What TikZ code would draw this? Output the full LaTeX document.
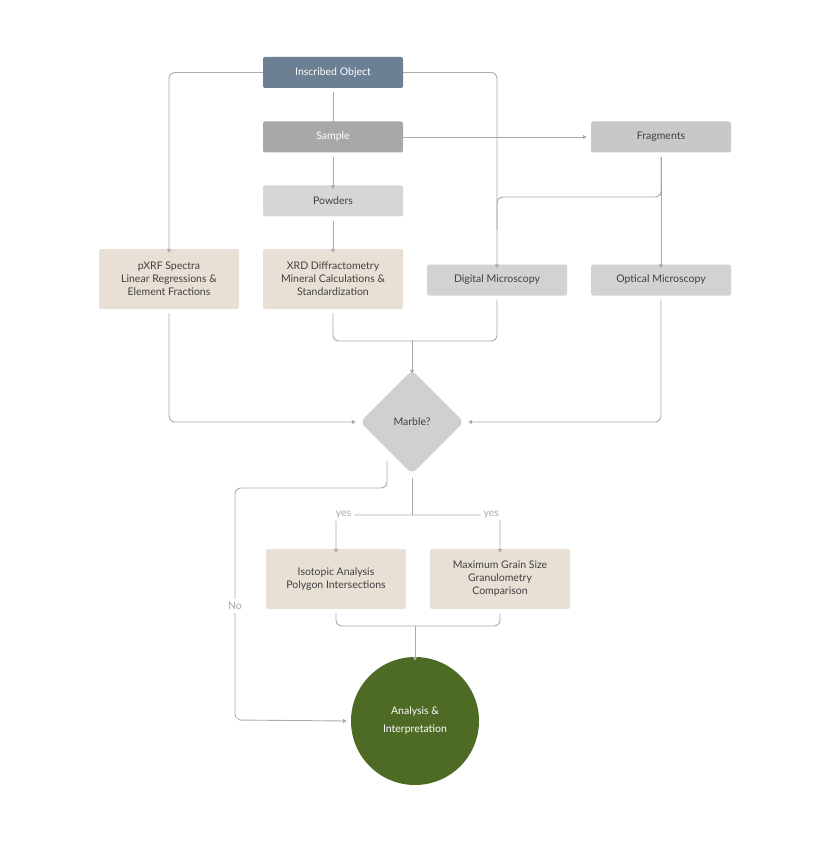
\documentclass[tikz,border=0pt]{standalone}
\usepackage{fontspec}
\setmainfont{Lato}
\usetikzlibrary{shapes.geometric,arrows.meta}
\definecolor{ln}{HTML}{AAAAAA}
\definecolor{tan}{HTML}{E8E0D4}
\begin{document}
\begin{tikzpicture}[x=1pt,y=-1pt,
  box/.style={rectangle,rounded corners=2pt,minimum width=140pt,minimum height=31pt,align=center,font=\fontsize{10.5}{13}\selectfont,text=black!75},
  tbox/.style={box,fill=tan,minimum height=60pt},
  e/.style={draw=ln,line width=0.9pt,rounded corners=6pt},
  a/.style={e,-{Triangle[length=4pt,width=4pt]}},
  lab/.style={fill=white,text=ln,font=\fontsize{10.5}{12}\selectfont,inner sep=3pt}]
\useasboundingbox (0,0) rectangle (836,842);
\node[box,fill={rgb,255:red,107;green,128;blue,147},text=white] (io) at (333,72.5) {Inscribed Object};
\node[box,fill={rgb,255:red,168;green,168;blue,168},text=white] (sa) at (333,137) {Sample};
\node[box,fill={rgb,255:red,200;green,200;blue,200}] (fr) at (661,137) {Fragments};
\node[box,fill={rgb,255:red,214;green,214;blue,214}] (po) at (333,201) {Powders};
\node[tbox] (px) at (169,279) {pXRF Spectra\\Linear Regressions \&\\Element Fractions};
\node[tbox] (xr) at (333,279) {XRD Diffractometry\\Mineral Calculations \&\\Standardization};
\node[box,fill={rgb,255:red,210;green,210;blue,210}] (dm) at (497,280) {Digital Microscopy};
\node[box,fill={rgb,255:red,210;green,210;blue,210}] (om) at (661,280) {Optical Microscopy};
\node[diamond,fill={rgb,255:red,208;green,208;blue,208},rounded corners=6pt,minimum width=104pt,minimum height=104pt,inner sep=0pt,font=\fontsize{10.5}{13}\selectfont,text=black!75] (mb) at (412,422) {Marble?};
\node[tbox] (is) at (336,579) {Isotopic Analysis\\Polygon Intersections};
\node[tbox] (mg) at (500,579) {Maximum Grain Size\\Granulometry\\Comparison};
\node[circle,fill={rgb,255:red,77;green,107;blue,36},minimum size=128pt,align=center,text=white,font=\fontsize{10.5}{18}\selectfont] (an) at (415,721) {Analysis \&\\Interpretation};
% edges
\draw[a] (io.west) -| ([yshift=-4pt]px.north);
\draw[a] (io.east) -| ([yshift=-4pt]dm.north);
\draw[a] ([yshift=-4pt]io.south) -- ([yshift=-4pt]sa.north);
\draw[a] ([yshift=-4pt]sa.south) -- ([yshift=-4pt]po.north);
\draw[a] ([yshift=-4pt]po.south) -- ([yshift=-4pt]xr.north);
\draw[a] (sa.east) -- ([xshift=-4pt]fr.west);
\draw[a] ([yshift=-4pt]fr.south) -- ([yshift=-4pt]om.north);
\draw[e] ([yshift=-4pt]fr.south) -- (661,190) -- (661,197) -- (497,197) -- (497,230);
\coordinate (m1) at (412,341);
\draw[e] ([yshift=-4pt]xr.south) |- (407,341) -- (m1);
\draw[e] ([yshift=-4pt]dm.south) |- (417,341) -- (m1);
\draw[a] (m1) -- ([yshift=-4pt]mb.north);
\draw[a] ([yshift=-4pt]px.south) |- ([xshift=-4pt]mb.west);
\draw[a] ([yshift=-4pt]om.south) |- ([xshift=4pt]mb.east);
\coordinate (nb) at (387,461);
\draw[a] (nb) -- (387,488) -- (235,488) -- (235,720) -- ([xshift=-4pt]an.west) node[pos=0,lab] {};
\node[lab] at (235,606) {No};
\coordinate (m2) at (412,515);
\draw[e] ([yshift=-4pt]mb.south) -- (m2);
\draw[a] (m2) -| node[lab,pos=0.45] {yes} ([yshift=-4pt]is.north);
\draw[a] (m2) -| node[lab,pos=0.45] {yes} ([yshift=-4pt]mg.north);
\coordinate (m3) at (415,626);
\draw[e] ([yshift=-4pt]is.south) |- (m3);
\draw[e] ([yshift=-4pt]mg.south) |- (m3);
\draw[a] (m3) -- ([yshift=-4pt]an.north);
\end{tikzpicture}
\end{document}
